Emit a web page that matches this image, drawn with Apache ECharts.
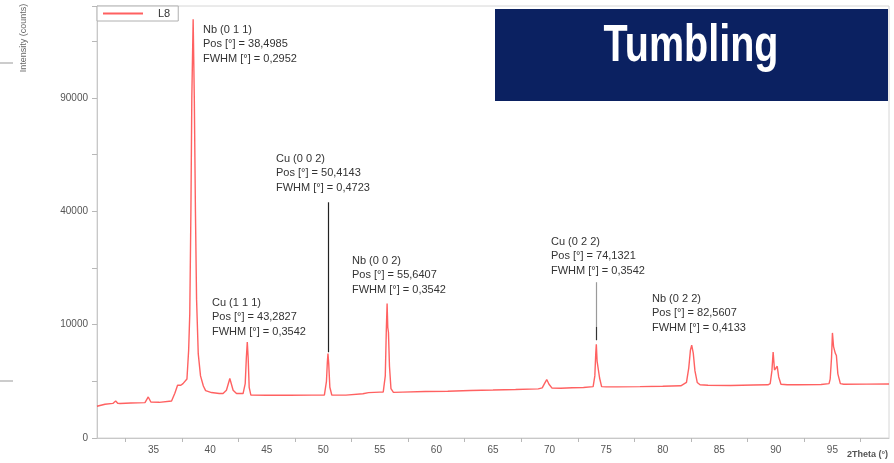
<!DOCTYPE html>
<html>
<head>
<meta charset="utf-8">
<script src="https://cdn.jsdelivr.net/npm/echarts@6/dist/echarts.min.js"></script>
<style>
  html, body { margin: 0; padding: 0; background: #fff; }
  #chart { width: 894px; height: 463px; }
</style>
</head>
<body>
<div id="chart"></div>
<script>
// Diffraction scan L8 (2Theta in degrees, intensity in counts)
const twoTheta = [
  30.0, 30.71, 31.4, 31.65, 31.85, 32.03, 33.0, 34.24, 34.53, 34.76, 35.5, 36.59, 36.88, 37.12, 37.41, 37.6, 37.76,
  37.95, 38.1, 38.2, 38.3, 38.38, 38.4985, 38.6, 38.7, 38.8, 38.95, 39.15, 39.4, 39.6,
  40.12, 40.8, 41.14, 41.44, 41.74, 42.03, 42.33, 42.91,
  42.95, 43.1, 43.2, 43.2827, 43.36, 43.45, 43.6,
  45.0, 47.0, 49.0, 50.1, 50.28, 50.36, 50.4143, 50.48, 50.58, 50.75,
  52.0, 53.5, 54.0, 55.0, 55.3, 55.48, 55.57, 55.6407, 55.7, 55.76, 55.85, 55.98, 56.2,
  57.0, 59.0, 61.0, 63.0, 65.0, 67.0, 69.0, 69.35, 69.55, 69.75, 69.95, 70.2, 71.0, 72.0, 73.0, 73.85,
  74.0, 74.08, 74.1321, 74.2, 74.3, 74.42, 74.6, 75.0,
  76.0, 78.0, 80.0, 81.6, 82.1, 82.3, 82.45, 82.5607, 82.7, 82.85, 83.05, 83.3,
  84.0, 86.0, 88.0, 89.3, 89.5, 89.65, 89.76, 89.88, 89.98, 90.12, 90.25, 90.45, 91.0,
  92.0, 94.0, 94.7, 94.8, 94.92, 95.0, 95.1, 95.25, 95.35, 95.48, 95.7, 96.0, 98.0, 100.0
];
const counts = [
  783, 885, 930, 1066, 930, 922, 950, 976, 1310, 1010, 990, 1066, 1557, 2164, 2164, 2300, 2443,
  2700, 6000, 12000, 40000, 90000, 136400, 90000, 40000, 15000, 5500, 3000, 2100, 1750,
  1606, 1540, 1536, 1772, 2749, 1772, 1536, 1536,
  1550, 2300, 5000, 7180, 5000, 2000, 1430,
  1420, 1420, 1430, 1440, 2500, 4500, 5550, 4300, 2000, 1440,
  1430, 1520, 1600, 1640, 1650, 3000, 9000, 14070, 9500, 8700, 4000, 1900, 1620,
  1640, 1680, 1700, 1760, 1790, 1830, 1880, 1950, 2300, 2657, 2250, 1950, 1920, 1960, 1980, 2050,
  3000, 5500, 6840, 4600, 4380, 2800, 2050, 2030,
  2030, 2050, 2080, 2120, 2400, 3800, 6000, 6694, 5600, 3500, 2400, 2200,
  2160, 2150, 2180, 2200, 2300, 3500, 5760, 3600, 3700, 4000, 2900, 2250, 2200,
  2200, 2230, 2300, 2700, 5000, 8590, 6500, 5600, 5300, 3200, 2300, 2250, 2260, 2270
];

// Labelled reflections
const peakNames = ['Nb (0 1 1)', 'Cu (1 1 1)', 'Cu (0 0 2)', 'Nb (0 0 2)', 'Cu (0 2 2)', 'Nb (0 2 2)'];
const peakPos = ['38,4985', '43,2827', '50,4143', '55,6407', '74,1321', '82,5607'];
const peakFwhm = ['0,2952', '0,3542', '0,4723', '0,3542', '0,3542', '0,4133'];

// Axis ticks (counts) on the square-root intensity axis
const yTickCounts = [0, 10000, 40000, 90000];

// Leader lines: [2Theta, from counts, to counts, colour]
const leaderLines = [
  [50.4143, 43220, 5720, '#222'],
  [74.1321, 18880, 9600, '#9a9a9a'],
  [74.1321, 9600, 7435, '#333']
];

// Annotation placement in pixels (left, top)
const labelBoxes = [[203, 23], [212, 296], [276, 152], [352, 254], [551, 235], [652, 292]];

const seriesData = twoTheta.map((t, i) => [t, Math.sqrt(counts[i])]);

const chart = echarts.init(document.getElementById('chart'), null, { renderer: 'canvas' });

const annotationText = peakNames.map((n, i) => ({
  type: 'text',
  left: labelBoxes[i][0],
  top: labelBoxes[i][1],
  z: 50,
  style: {
    text: n + '\nPos [°] = ' + peakPos[i] + '\nFWHM [°] = ' + peakFwhm[i],
    font: '11px "Liberation Sans", Arial, sans-serif',
    fill: '#333',
    lineHeight: 14.3
  }
}));

chart.setOption({
  animation: false,
  backgroundColor: '#fff',
  grid: {
    left: 97, right: 5, top: 6, bottom: 25,
    show: true, borderColor: '#d6d6d6', borderWidth: 1, backgroundColor: 'transparent'
  },
  legend: {
    left: 97, top: 6,
    padding: [2, 8, 2, 6],
    itemWidth: 40, itemHeight: 2, itemGap: 10,
    icon: 'rect',
    borderColor: '#b0b0b0', borderWidth: 1,
    backgroundColor: '#fff',
    textStyle: { fontSize: 11, color: '#333', fontFamily: 'Liberation Sans', padding: [0, 0, 0, 10] },
    data: ['L8']
  },
  xAxis: {
    type: 'value', min: 30, max: 100, interval: 5,
    axisLine: { show: true, lineStyle: { color: '#c8c8c8' } },
    axisTick: { show: false },
    minorTick: { show: true, splitNumber: 2, length: 4, lineStyle: { color: '#b8b8b8' } },
    splitLine: { show: false },
    axisLabel: {
      showMinLabel: false, showMaxLabel: false,
      color: '#555', fontSize: 10, fontFamily: 'Liberation Sans', margin: 7
    }
  },
  yAxis: {
    type: 'value', min: 0, max: 381, interval: 100,
    axisLine: { show: true, lineStyle: { color: '#c8c8c8' } },
    axisTick: { show: true, length: 5, lineStyle: { color: '#b8b8b8' } },
    minorTick: { show: true, splitNumber: 2, length: 5, lineStyle: { color: '#b8b8b8' } },
    splitLine: { show: false },
    axisLabel: {
      showMaxLabel: false,
      color: '#555', fontSize: 10, fontFamily: 'Liberation Sans', margin: 9,
      formatter: v => {
        const c = Math.round(v * v);
        return yTickCounts.indexOf(c) >= 0 ? String(c) : '';
      }
    }
  },
  series: [{
    name: 'L8',
    type: 'line',
    symbol: 'none',
    data: seriesData,
    lineStyle: { color: '#ff4545', width: 1.4, opacity: 0.85 },
    itemStyle: { color: '#ff6060' },
    markLine: {
      silent: true, symbol: 'none', label: { show: false },
      data: leaderLines.map(l => [
        { coord: [l[0], Math.sqrt(l[1])], lineStyle: { color: l[3], width: 1.2, type: 'solid' } },
        { coord: [l[0], Math.sqrt(l[2])] }
      ])
    }
  }],
  graphic: [
    ...annotationText,
    {
      type: 'rect', z: 60,
      shape: { x: 495, y: 9, width: 393, height: 92 },
      style: { fill: '#0b2161' }
    },
    {
      type: 'text', z: 61,
      x: 691, y: 47,
      scaleX: 0.76,
      style: {
        text: 'Tumbling',
        font: 'bold 52px "Liberation Sans Narrow", "Liberation Sans", sans-serif',
        fill: '#fff', align: 'center', verticalAlign: 'middle'
      }
    },
    {
      type: 'text', z: 40,
      x: 24, y: 38, rotation: Math.PI / 2,
      style: {
        text: 'Intensity (counts)',
        font: '9px "Liberation Sans", sans-serif',
        fill: '#666', align: 'center', verticalAlign: 'middle'
      }
    },
    {
      type: 'text', z: 40,
      left: 847, top: 450,
      style: {
        text: '2Theta (°)',
        font: 'bold 9px "Liberation Sans", sans-serif',
        fill: '#555'
      }
    },
    { type: 'line', z: 40, shape: { x1: 0, y1: 63, x2: 13, y2: 63 }, style: { stroke: '#999', lineWidth: 1 } },
    { type: 'line', z: 40, shape: { x1: 0, y1: 381, x2: 13, y2: 381 }, style: { stroke: '#999', lineWidth: 1 } }
  ]
});
</script>
</body>
</html>
